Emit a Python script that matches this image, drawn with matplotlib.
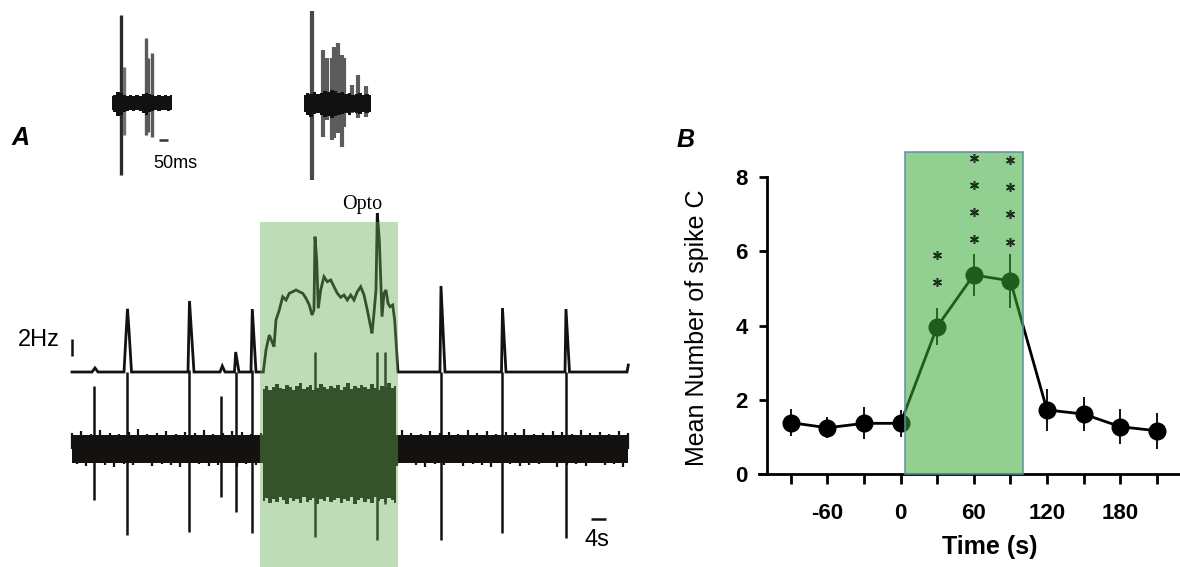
import numpy as np
import matplotlib
matplotlib.use('Agg')
import matplotlib.pyplot as plt
from matplotlib.patches import Rectangle

plt.rcParams['font.family'] = ['Liberation Sans', 'DejaVu Sans']

# ---------------- Panel B data ----------------
time_s = [-90, -60, -30, 0, 30, 60, 90, 120, 150, 180, 210]
mean_spikes = [1.39, 1.25, 1.37, 1.37, 3.97, 5.36, 5.20, 1.73, 1.62, 1.28, 1.17]
sem_spikes = [0.36, 0.28, 0.43, 0.37, 0.50, 0.56, 0.72, 0.57, 0.46, 0.47, 0.49]
xtick_values = [-90, -60, -30, 0, 30, 60, 90, 120, 150, 180, 210]
xtick_labels = ['', '-60', '', '0', '', '60', '', '120', '', '180', '']
ytick_values = [0, 2, 4, 6, 8]
star_times = [30, 60, 90]
star_levels = [[5.18, 5.90], [6.32, 7.06, 7.78, 8.49], [6.25, 7.00, 7.72, 8.45]]
opto_b_start, opto_b_end, opto_b_top = 4, 100, 8.66

# ---------------- Panel A data ----------------
# population rate trace (time in s, rate in Hz above baseline)
rate_t = [-0.8, 4.53, 5.33, 6.13, 13.07, 13.6, 14.0, 14.4, 15.07, 30.13, 30.53, 31.73,
          38.67, 39.28, 40.0, 42.53, 42.85, 43.73, 46.93, 47.28, 48.27,
          50.21, 50.93, 51.81, 52.53, 53.07, 53.6, 54.48, 55.39, 56.27, 57.15,
          58.05, 58.93, 59.81, 60.72, 61.6, 62.48, 63.2, 63.73, 64.0, 64.45,
          64.88, 65.52, 66.4, 67.28, 68.19, 69.07, 69.95, 70.85, 71.73, 72.61,
          73.52, 74.4, 75.28, 76.19, 77.07, 77.95, 78.85, 79.2, 79.73, 80.27,
          80.61, 81.15, 81.6, 81.87, 82.4, 82.93, 83.47, 84.0, 84.72, 85.25, 86.13,
          97.33, 97.6, 98.67, 113.73, 114.0, 114.93, 130.67, 130.93, 131.87, 147.2, 147.55]
rate_hz = [0, 0, 0.49, 0, 0, 4.5, 7.7, 5.1, 0, 0, 8.66, 0,
           0, 0.73, 0, 0, 2.44, 0, 0, 7.68, 0,
           0, 2.68, 4.51, 3.70, 3.09, 6.34, 7.56, 9.18, 8.78, 9.60,
           9.79, 10.0, 9.79, 9.60, 8.99, 8.17, 6.95, 7.56, 16.5, 13.66,
           7.77, 10.0, 11.62, 11.01, 11.22, 10.40, 9.60, 9.11, 9.39, 8.78,
           9.39, 8.78, 9.79, 10.40, 9.39, 7.56, 5.52, 4.72, 7.16, 10.0,
           19.35, 16.1, 10.40, 6.74, 9.60, 10.0, 8.38, 7.96, 8.17, 6.34, 0,
           0, 10.49, 0, 0, 7.8, 0, 0, 7.68, 0, 0, 0.85]

# large units in the raw trace (time s, upward / downward amplitude)
spike_t = [5.15, 13.79, 30.48, 38.93, 42.85, 47.28, 64.0, 80.61, 82.67, 97.6, 113.95, 130.85]
spike_up = [63, 77, 79, 53, 77, 79, 97, 97, 97, 77, 77, 77]
spike_down = [51, 86, 83, 48, 63, 84, 88, 91, 55, 91, 84, 89]

# background noise of the raw trace: core half-width and noise peaks (upper / lower)
band_start, band_end = -0.8, 147.5
band_core = 14
band_top = [16, 18, 15, 19, 16, 15, 17, 20, 15, 16, 18, 15, 17, 16, 19, 15, 16, 18, 17, 15,
            16, 19, 15, 17, 16, 18, 15, 16, 20, 17, 15, 18, 16, 15, 17, 19, 16, 15, 18, 16,
            17, 15, 19, 16, 18, 15, 17, 16, 20, 15, 16, 18, 17, 15, 19, 16, 17, 15, 18, 16]
band_bot = [15, 17, 14, 16, 18, 15, 16, 14, 17, 15, 16, 18, 14, 15, 17, 16, 14, 18, 15, 16,
            17, 14, 15, 16, 18, 15, 14, 17, 16, 15, 18, 14, 16, 15, 17, 14, 16, 18, 15, 16,
            14, 17, 15, 16, 18, 14, 15, 17, 16, 15, 14, 18, 16, 15, 17, 14, 16, 15, 18, 16]
# evoked activity envelope during light
gband_start, gband_end = 50.2, 85.5
gband_top = [60, 63, 59, 62, 65, 61, 60, 64, 62, 59, 63, 66, 60, 62, 64, 59, 61, 65, 62, 60,
             63, 61, 64, 59, 62, 66, 60, 63, 61, 64, 62, 60, 65, 61, 59, 63, 62, 66, 61, 63]
gband_bot = [52, 49, 54, 50, 53, 48, 51, 55, 49, 52, 50, 54, 48, 53, 51, 49, 55, 50, 52, 48,
             53, 51, 49, 54, 50, 52, 48, 55, 51, 49, 53, 50, 54, 48, 52, 50, 53, 49, 51, 54]
opto_a_start, opto_a_end = 49.33, 86.13

# insets: bursts (time in ms)
ins1_t = [50, 68, 190.6, 203, 222]
ins1_up = [88, 36, 64.7, 44.7, 49.7]
ins1_down = [72, 32, 32, 28.7, 33.7]
ins1_len = 333
ins1_env_top = [7, 8, 11, 10, 8, 7, 8, 7, 8, 7, 9, 10, 9, 8, 7, 8, 7, 8, 7, 8]
ins1_env_bot = [7, 9, 13, 12, 9, 8, 7, 8, 7, 8, 10, 12, 9, 8, 7, 8, 7, 7, 8, 7]

ins2_t = [42.8, 107, 126, 154, 168, 187, 209, 224, 265, 298, 344]
ins2_up = [92.3, 53, 45, 45, 56.3, 60.3, 48, 45, 18, 28, 17]
ins2_down = [77, 33.7, 17, 37, 35.3, 30.3, 43.7, 23.7, 10, 15, 13.7]
ins2_len = 370
ins2_env_top = [8, 10, 9, 11, 9, 10, 12, 11, 13, 12, 10, 11, 9, 10, 8, 9, 10, 8, 9, 8]
ins2_env_bot = [9, 12, 14, 11, 10, 12, 14, 13, 15, 13, 12, 11, 10, 12, 9, 10, 11, 9, 10, 9]

# ---------------- figure ----------------
W, H = 1180, 567
fig = plt.figure(figsize=(W / 100, H / 100), dpi=100)
fig.patch.set_facecolor('white')


def fx(px):
    return px / W


def fy(py):
    return 1 - py / H


# ---- Panel A main traces ----
axA = fig.add_axes([0, 0, 640 / W, 1])
axA.set_xlim(-20, 150.67)
axA.set_ylim(0, 567)
axA.axis('off')
RATE_BASE, HZ_SCALE, SPK_BASE = 195, 8.2, 118
TRACE = '#141210'

axA.plot(rate_t, RATE_BASE + np.array(rate_hz) * HZ_SCALE, color=TRACE, lw=2.0,
         solid_joinstyle='miter')
# raw trace noise: solid core plus individual noise peaks
axA.fill_between([band_start, band_end], SPK_BASE + band_core, SPK_BASE - band_core,
                 color=TRACE, lw=0)
e = np.linspace(band_start, band_end, len(band_top))
step = (band_end - band_start) / (len(band_top) - 1)
axA.vlines(e, SPK_BASE, SPK_BASE + np.array(band_top), color=TRACE, lw=1.6)
axA.vlines(e[:-1] + step / 2, SPK_BASE - np.array(band_bot[:-1]), SPK_BASE,
           color=TRACE, lw=1.6)
g = np.linspace(gband_start, gband_end, len(gband_top))
axA.fill_between(g, SPK_BASE + np.array(gband_top), SPK_BASE - np.array(gband_bot),
                 step='mid', color=TRACE, lw=0)
axA.vlines(spike_t, SPK_BASE - np.array(spike_down), SPK_BASE + np.array(spike_up),
           color=TRACE, lw=1.8)
axA.add_patch(Rectangle((opto_a_start, 0), opto_a_end - opto_a_start, 345,
                        facecolor=(100 / 255, 172 / 255, 80 / 255), alpha=0.42, lw=0,
                        zorder=10))
axA.text(76.7, 362, 'Opto', family=['Liberation Serif', 'DejaVu Serif'], fontsize=14.5,
         ha='center', va='center', zorder=11)
# 2 Hz scale bar
axA.vlines(-0.8, RATE_BASE + 2 * HZ_SCALE, RATE_BASE + 4 * HZ_SCALE, color=TRACE, lw=1.8)
axA.text(-4.0, RATE_BASE + 3.9 * HZ_SCALE, '2Hz', fontsize=17, ha='right', va='center')
# 4 s scale bar
axA.hlines(48, 137.6, 141.6, color=TRACE, lw=1.8)
axA.text(139.3, 27, '4s', fontsize=17, ha='center', va='center')


# ---- insets ----
def draw_burst(left_px, onset_px, t, up, down, length, et, eb, colors, lw, bar=False):
    ax = fig.add_axes([fx(left_px), fy(190), fx(100), 190 / H])
    ax.set_xlim((left_px - onset_px) / 0.18, (left_px + 100 - onset_px) / 0.18)
    ax.set_ylim(-87, 103)
    ax.axis('off')
    ee = np.linspace(0, length, len(et))
    ax.fill_between(ee, et, -np.array(eb), step='mid', color='#111111', lw=0, zorder=3)
    ax.vlines(t, -np.array(down), up, colors=colors, lw=lw, zorder=2)
    if bar:
        ax.hlines(-37, 264, 314, color='#333333', lw=1.8)
        ax.text(351, -61, '50ms', fontsize=13, ha='center', va='center')
    return ax


draw_burst(100, 111.7, ins1_t, ins1_up, ins1_down, ins1_len, ins1_env_top, ins1_env_bot,
           ['#2a2a2a', '#707070', '#5a5a5a', '#5a5a5a', '#5a5a5a'], 2.4, bar=True)
draw_burst(290, 304, ins2_t, ins2_up, ins2_down, ins2_len, ins2_env_top, ins2_env_bot,
           ['#4a4a4a'] + ['#5c5c5c'] * 10, 3.0)

# ---- Panel B ----
x0, x1 = 759, 1180
ybase, yscale = 474.3, 37.2
axB = fig.add_axes([fx(x0), fy(ybase), (x1 - x0) / W, 8.75 * yscale / H])
axB.set_xlim(-116, 229)
axB.set_ylim(0, 8.75)
axB.patch.set_alpha(0)
for s in ['top', 'right']:
    axB.spines[s].set_visible(False)
axB.spines['left'].set_position(('data', -109.3))
axB.spines['left'].set_bounds(0, 8)
for s in ['left', 'bottom']:
    axB.spines[s].set_linewidth(2.0)
axB.set_xticks(xtick_values)
axB.set_xticklabels(xtick_labels)
axB.set_yticks(ytick_values)
axB.tick_params(axis='x', length=7, width=2.0, pad=14, labelsize=16)
axB.tick_params(axis='y', length=6, width=2.0, pad=8, labelsize=16)
for lab in axB.get_xticklabels() + axB.get_yticklabels():
    lab.set_fontweight('bold')

axB.errorbar(time_s, mean_spikes, yerr=sem_spikes, fmt='o-', color='black', ms=12,
             lw=2.0, elinewidth=1.3, capsize=0, zorder=3, clip_on=False)
axB.add_patch(Rectangle((opto_b_start, 0), opto_b_end - opto_b_start, opto_b_top,
                        facecolor=(55 / 255, 170 / 255, 55 / 255), alpha=0.55, lw=0,
                        zorder=5, clip_on=False))
axB.add_patch(Rectangle((opto_b_start, 0), opto_b_end - opto_b_start, opto_b_top,
                        fill=False, edgecolor='#5f8f9c', lw=1.1, zorder=6, clip_on=False))
for t, levels in zip(star_times, star_levels):
    axB.plot([t] * len(levels), levels, ls='none', marker=(6, 2, 0), ms=6.5, mew=1.1,
             color='#1c2e1c', zorder=7)

fig.text(fx(696.7), fy(328), 'Mean Number of spike C', rotation=90, fontsize=18,
         ha='center', va='center')
fig.text(fx(990), fy(547), 'Time (s)', fontsize=18, fontweight='bold',
         ha='center', va='center')

# panel letters
fig.text(fx(21), fy(138), 'A', fontsize=18, fontweight='bold', fontstyle='italic',
         ha='center', va='center')
fig.text(fx(686), fy(140), 'B', fontsize=18, fontweight='bold', fontstyle='italic',
         ha='center', va='center')

fig.savefig('out.png', dpi=100, facecolor='white')
